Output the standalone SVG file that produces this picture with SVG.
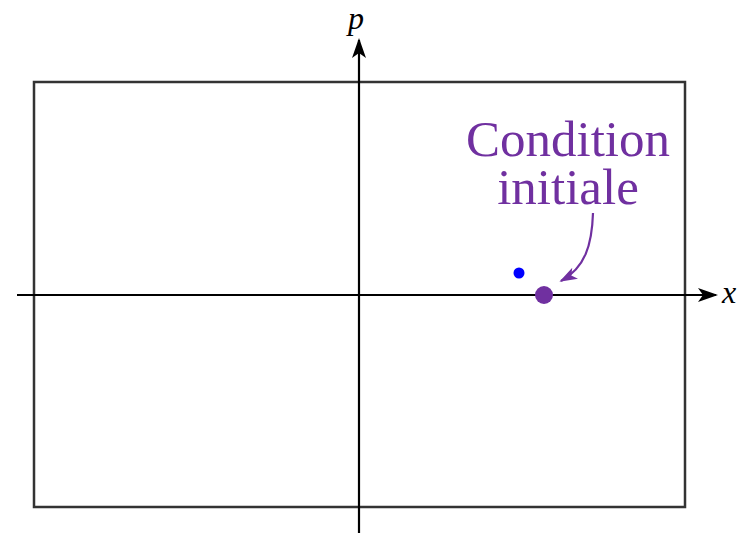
<svg xmlns="http://www.w3.org/2000/svg" width="743" height="533" viewBox="0 0 743 533">
<style>
.axis{stroke:#000;stroke-width:2.2;fill:none}
.lbl{font-family:"Liberation Serif",serif;font-style:italic;font-size:32px;fill:#000}
.ann{font-family:"Liberation Serif",serif;font-size:51px;fill:#7030A0;text-anchor:middle}
</style>
<defs>
<marker id="ah" viewBox="0 0 20 14" refX="18" refY="7" markerWidth="20" markerHeight="14" markerUnits="userSpaceOnUse" orient="auto">
<path d="M0,0 L20,7 L0,14 L5,7 Z" fill="#000"/>
</marker>
<marker id="ahp" viewBox="0 0 20 14" refX="18" refY="7" markerWidth="18" markerHeight="13" markerUnits="userSpaceOnUse" orient="auto">
<path d="M0,0 L20,7 L0,14 L5,7 Z" fill="#7030A0"/>
</marker>
</defs>
<g id="frame"><rect x="34" y="82" width="651" height="425" fill="none" stroke="#333" stroke-width="2.5"/></g>
<g id="connectors">
<line class="axis" x1="17" y1="295" x2="716" y2="295" marker-end="url(#ah)"/>
<line class="axis" x1="359" y1="533" x2="359" y2="40" marker-end="url(#ah)"/>
<path d="M593,213 C592,245 585,268 561,281" fill="none" stroke="#7030A0" stroke-width="2.2" marker-end="url(#ahp)"/>
</g>
<g id="label-p"><text class="lbl" x="348" y="29">p</text></g>
<g id="label-x"><text class="lbl" x="722" y="303">x</text></g>
<g id="point-blue"><circle cx="519" cy="273" r="5.5" fill="#0000FF"/></g>
<g id="point-initial"><circle cx="544" cy="295" r="9" fill="#7030A0"/></g>
<g id="annotation">
<text class="ann" x="568" y="156">Condition</text>
<text class="ann" x="568" y="204">initiale</text>
</g>
</svg>
